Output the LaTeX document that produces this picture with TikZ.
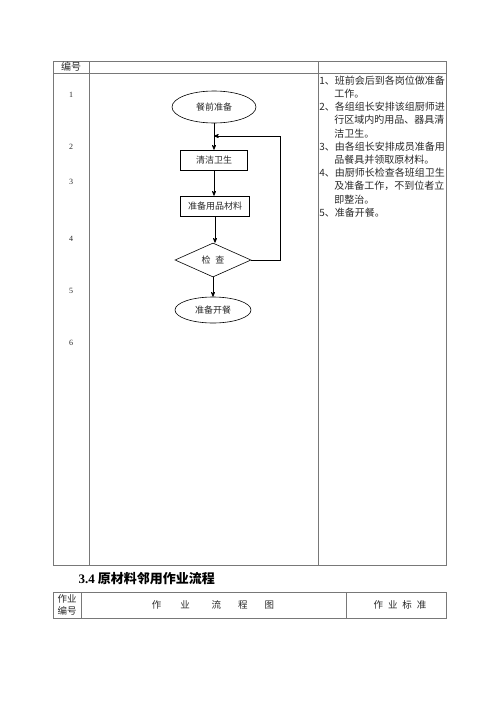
\documentclass[tikz,border=0pt]{standalone}
\usepackage{fontspec}
\setmainfont{Liberation Serif}
\newfontfamily\cjk{Noto Sans CJK SC}
\usetikzlibrary{arrows,shapes.geometric,positioning}
\definecolor{rulegray}{RGB}{120,120,120}
\definecolor{inkgray}{RGB}{40,40,40}

\begin{document}
\begin{tikzpicture}[x=1pt,y=-1pt,>=stealth',semithick,text=inkgray]
  \tikzstyle{every node}=[font=\cjk\fontsize{9}{11}\selectfont]
  \tikzstyle{rule}=[draw=rulegray,line width=0.7pt]
  \tikzstyle{box}=[draw,rectangle,minimum height=20,inner sep=2pt]
  \tikzstyle{oval}=[draw,ellipse,inner sep=1pt]
  \tikzstyle{flow}=[->,draw=black,line width=0.7pt]
  \useasboundingbox (0,0) rectangle (500,707);

  % upper table
  \draw[rule] (53,61) rectangle (446,565);
  \draw[rule] (53,73) -- (446,73);
  \draw[rule] (89,61) -- (89,565);
  \draw[rule] (318,61) -- (318,565);
  \node (head) at (71,67) {\fontsize{10}{11}\selectfont 编号};
  \foreach \n/\y in {1/95,2/147,3/182,4/239,5/291,6/343}
    \node[font=\fontsize{8}{9}\selectfont] (num\n) at (71,\y) {\n};

  % flow chart
  \node[oval,minimum width=84,minimum height=32] (prep)  at (214,107) {餐前准备};
  \node[box,minimum width=67]                    (clean) at (214,160) {清洁卫生};
  \node[box,minimum width=69]                    (mat)   at (215,206) {准备用品材料};
  \node[draw,diamond,aspect=2.2,minimum width=76,minimum height=34,inner sep=1pt]
                                                 (check) at (213,260) {检\hspace{5pt}查};
  \node[oval,minimum width=76,minimum height=26] (open)  at (213,310) {准备开餐};
  \coordinate (back) at (214,136);

  \path[flow] (prep.south) -- (prep.south |- clean.north);
  \path[flow] (clean) -- (clean |- mat.north);
  \path[flow] (mat) -- (mat |- check.north);
  \path[flow] (check) -- (open);
  \path[flow] (check.east) -- (280,260) |- (back);

  % standards
  \node[anchor=north west,align=left,inner sep=0pt,
        font=\cjk\fontsize{10}{13.2}\selectfont] (std) at (319,75.5)
  {1、班前会后到各岗位做准备\\
   \hspace*{15pt}工作。\\
   2、各组组长安排该组厨师进\\
   \hspace*{15pt}行区域内旳用品、器具清\\
   \hspace*{15pt}洁卫生。\\
   3、由各组长安排成员准备用\\
   \hspace*{15pt}品餐具并领取原材料。\\
   4、由厨师长检查各班组卫生\\
   \hspace*{15pt}及准备工作，不到位者立\\
   \hspace*{15pt}即整治。\\
   5、准备开餐。};

  % section title
  \node[anchor=west,font=\cjk\bfseries\fontsize{13}{15}\selectfont,text=black]
    (title) at (75,579) {{\rmfamily\bfseries 3.4} 原材料邻用作业流程};

  % lower table
  \draw[rule] (53,592) rectangle (446,618);
  \draw[rule] (81,592) -- (81,618);
  \draw[rule] (346,592) -- (346,618);
  \node[align=center,font=\cjk\fontsize{9.5}{12.5}\selectfont] (code) at (67,605) {作业\\编号};
  \node[font=\cjk\fontsize{9.5}{11}\selectfont] (chart) at (213,605)
    {作\hspace{19pt}业\hspace{22pt}流\hspace{17pt}程\hspace{17pt}图};
  \node[font=\cjk\fontsize{9.5}{11}\selectfont] (norm) at (400,605)
    {作\hspace{5pt}业\hspace{5pt}标\hspace{5pt}准};
\end{tikzpicture}
\end{document}
